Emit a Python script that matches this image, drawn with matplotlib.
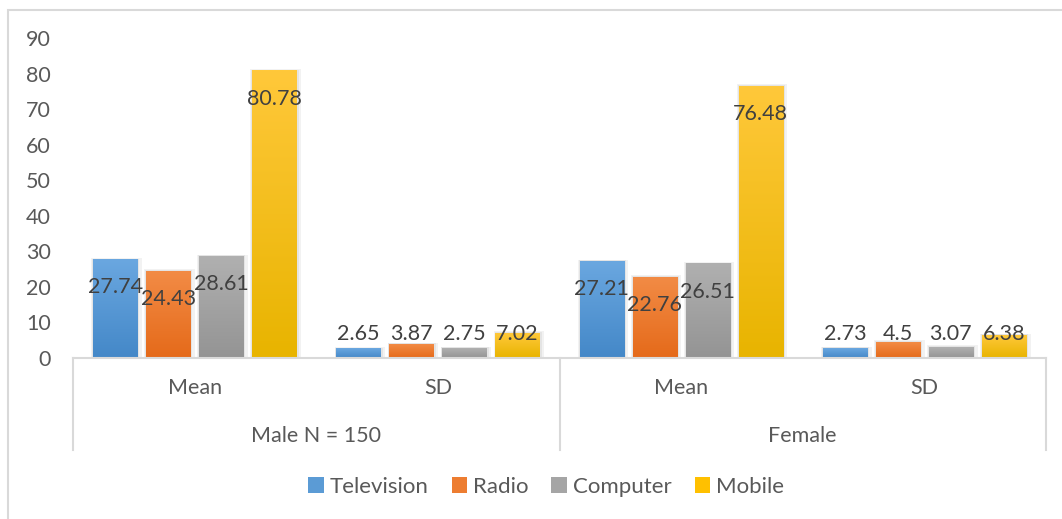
import numpy as np
import matplotlib
matplotlib.use("Agg")
import matplotlib.pyplot as plt
from matplotlib.colors import LinearSegmentedColormap
from matplotlib.patches import Rectangle, Patch
from matplotlib.lines import Line2D
import matplotlib.transforms as mtransforms

plt.rcParams['font.family'] = ['Lato', 'DejaVu Sans']

# data
series = ['Television', 'Radio', 'Computer', 'Mobile']
stats = ['Mean', 'SD', 'Mean', 'SD']
groups = ['Male N = 150', 'Female']
television = [27.74, 2.65, 27.21, 2.73]
radio = [24.43, 3.87, 22.76, 4.5]
computer = [28.61, 2.75, 26.51, 3.07]
mobile = [80.78, 7.02, 76.48, 6.38]
values = [television, radio, computer, mobile]

top_cols = ['#6aa7e0', '#f28b45', '#b0b0b0', '#ffc83a']
bot_cols = ['#4488c8', '#e56a1a', '#949494', '#e8b400']
mid_cols = ['#5B9BD5', '#ED7D31', '#A5A5A5', '#FFC000']

W, H = 1062, 519
fig = plt.figure(figsize=(W / 100, H / 100), dpi=100)
ax = fig.add_axes([73 / W, 1 - 358 / H, (1046 - 73) / W, (358 - 38) / H])
ax.set_xlim(0, 4)
ax.set_ylim(0, 90)

# outer chart border
fig.patches.append(Rectangle((8 / W, -0.1), 1.2, 1 - 10 / H + 0.1, transform=fig.transFigure,
                             fill=False, edgecolor='#d9d9d9', linewidth=1.5))

bw = 0.181
step = 0.218
txt = '#404040'
for j, vals in enumerate(values):
    cmap = LinearSegmentedColormap.from_list('g%d' % j, [bot_cols[j], top_cols[j]])
    grad = np.linspace(0, 1, 100).reshape(-1, 1)
    for i, v in enumerate(vals):
        xc = i + 0.5 + (j - 1.5) * step
        x0 = xc - bw / 2
        # soft shadow
        for k, a in [(0.012, 0.10), (0.006, 0.12)]:
            ax.add_patch(Rectangle((x0 - k * 0.6, 0), bw + k * 2.2, v + k * 40,
                                   facecolor='#808080', edgecolor='none', alpha=a, zorder=1))
        ax.imshow(grad, extent=[x0, x0 + bw, 0, v], origin='lower', aspect='auto',
                  cmap=cmap, zorder=2, interpolation='bilinear')
        ly = max(v - 7.9, 6.8)
        ax.text(xc, ly, f'{v:g}', ha='center', va='center', fontsize=15.5, color=txt, zorder=5)

ax.set_xlim(0, 4)
ax.set_ylim(0, 90)
ax.set_yticks(np.arange(0, 91, 10))
ax.set_xticks([])
ax.tick_params(axis='y', length=0, pad=16, labelsize=15.5, labelcolor='#595959')
for s in ['top', 'right', 'left']:
    ax.spines[s].set_visible(False)
ax.spines['bottom'].set_color('#d9d9d9')
ax.spines['bottom'].set_linewidth(1.5)

# multi-level category axis
trans = mtransforms.blended_transform_factory(ax.transData, ax.transAxes)
lab_col = '#595959'
for i, s in enumerate(stats):
    ax.text(i + 0.5, -30 / 320, s, transform=trans, ha='center', va='center',
            fontsize=15.5, color=lab_col)
for g, name in enumerate(groups):
    ax.text(2 * g + 1, -78 / 320, name, transform=trans, ha='center', va='center',
            fontsize=15.5, color=lab_col)
for xv in [0, 2, 4]:
    ax.add_line(Line2D([xv, xv], [0, -92 / 320], transform=trans, color='#d9d9d9',
                       linewidth=1.5, clip_on=False))

handles = [Patch(facecolor=c, edgecolor='none', label=n) for c, n in zip(mid_cols, series)]
fig.legend(handles=handles, loc='center', bbox_to_anchor=(546 / W, 1 - 487 / H), ncol=4,
           frameon=False, fontsize=16, handlelength=0.7, handleheight=0.7,
           handletextpad=0.25, columnspacing=1.05, labelcolor=lab_col)

fig.savefig('out.png', dpi=100)
